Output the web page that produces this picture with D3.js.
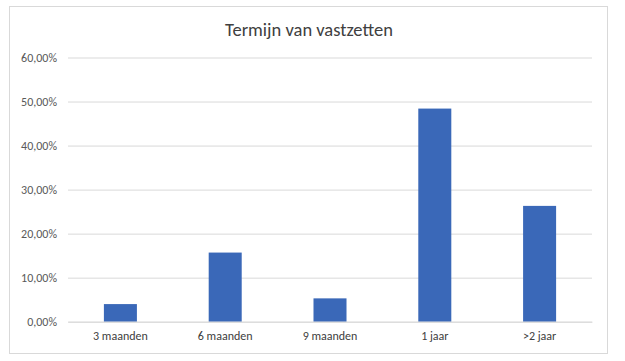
<!DOCTYPE html>
<html><head><meta charset="utf-8">
<script src="https://cdn.jsdelivr.net/npm/d3@7"></script>
<style>body{margin:0;background:#fff}svg{display:block}</style>
</head><body>
<svg id="c" width="625" height="361"></svg>
<script>
const title = "Termijn van vastzetten";
const categories = ["3 maanden", "6 maanden", "9 maanden", "1 jaar", ">2 jaar"];
const values = [0.040, 0.157, 0.053, 0.484, 0.263];
const yTicks = [0, 0.1, 0.2, 0.3, 0.4, 0.5, 0.6];

const svg = d3.select("#c");
const font = "Calibri, Carlito, 'Open Sans', 'Liberation Sans', sans-serif";
svg.append("rect").attr("x", 9.5).attr("y", 6.5).attr("width", 598).attr("height", 347)
  .attr("fill", "#fff").attr("stroke", "#d9d9d9");

const m = {left: 68, right: 592, top: 57.5, bottom: 321.7};
const x = d3.scaleBand().domain(categories).range([m.left, m.right])
  .paddingInner(0.685).paddingOuter(0.3425);
const y = d3.scaleLinear().domain([0, 0.6]).range([m.bottom, m.top]);

const fmt = v => d3.format(".2f")(v * 100).replace(".", ",") + "%";

const gy = svg.append("g").attr("transform", `translate(${m.left},0)`)
  .call(d3.axisLeft(y).tickValues(yTicks).tickSize(-(m.right - m.left)).tickPadding(11).tickFormat(fmt));
gy.select(".domain").remove();
gy.selectAll(".tick line").attr("stroke", "#d9d9d9").attr("stroke-width", 1);
gy.selectAll(".tick text").attr("fill", "#595959").style("font-family", font).style("font-size", "12px");

svg.append("g").selectAll("rect").data(values).join("rect")
  .attr("x", (d, i) => x(categories[i]))
  .attr("width", x.bandwidth())
  .attr("y", d => y(d))
  .attr("height", d => y(0) - y(d))
  .attr("fill", "#3a68b8");

const gx = svg.append("g").attr("transform", `translate(0,${m.bottom})`)
  .call(d3.axisBottom(x).tickSize(0).tickPadding(10));
gx.select(".domain").attr("stroke", "#d9d9d9");
gx.selectAll(".tick text").attr("fill", "#404040").style("font-family", font).style("font-size", "12px");

svg.append("text").attr("x", 309).attr("y", 36).attr("text-anchor", "middle")
  .attr("fill", "#404040").style("font-family", font).style("font-size", "18.5px").text(title);
</script>
</body></html>
